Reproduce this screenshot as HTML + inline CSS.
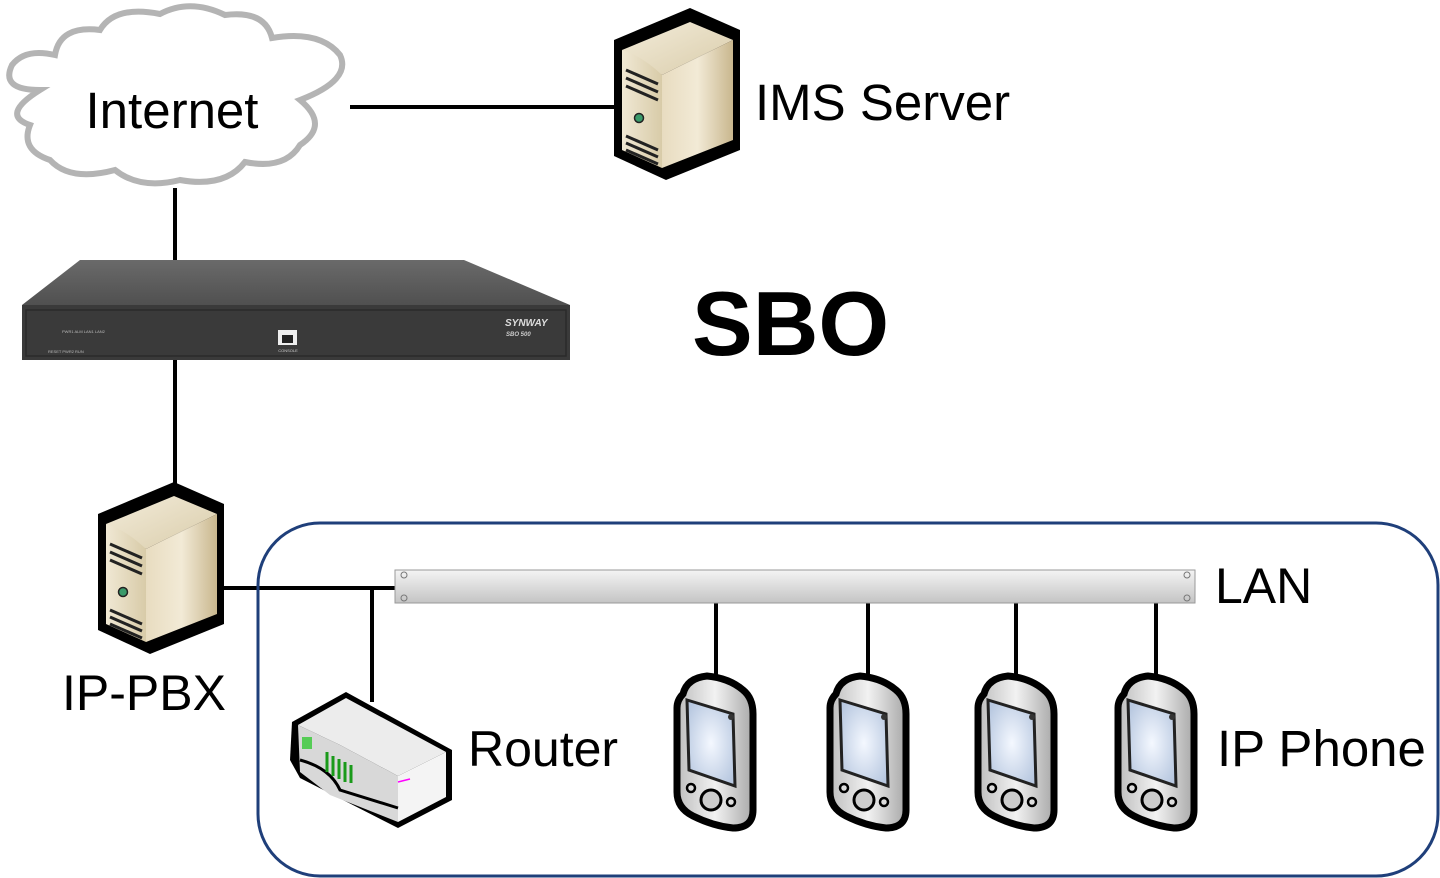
<!DOCTYPE html>
<html><head><meta charset="utf-8"><style>
html,body{margin:0;padding:0;background:#fff;}
svg{display:block;}
text{font-family:"Liberation Sans",Arial,sans-serif;}
</style></head><body>
<svg width="1440" height="878" viewBox="0 0 1440 878" xmlns="http://www.w3.org/2000/svg">
<defs>
<linearGradient id="srvTop" x1="0" y1="0" x2="1" y2="1"><stop offset="0" stop-color="#f3ecda"/><stop offset="1" stop-color="#d9ccaa"/></linearGradient>
<linearGradient id="srvFront" x1="0" y1="0" x2="1" y2="0"><stop offset="0" stop-color="#f0e8d4"/><stop offset="1" stop-color="#d8cba8"/></linearGradient>
<linearGradient id="srvSide" x1="0" y1="0" x2="1" y2="0"><stop offset="0" stop-color="#e8dcc0"/><stop offset="0.5" stop-color="#f2ead6"/><stop offset="1" stop-color="#c9b78e"/></linearGradient>
<linearGradient id="sboTop" x1="0" y1="0" x2="0" y2="1"><stop offset="0" stop-color="#6a6a6a"/><stop offset="1" stop-color="#505050"/></linearGradient>
<linearGradient id="lan" x1="0" y1="0" x2="0" y2="1"><stop offset="0" stop-color="#f4f4f4"/><stop offset="0.5" stop-color="#dcdcdc"/><stop offset="1" stop-color="#c4c4c4"/></linearGradient>
<linearGradient id="ph" x1="0" y1="0" x2="1" y2="0"><stop offset="0" stop-color="#bdbdbd"/><stop offset="0.5" stop-color="#f2f2f2"/><stop offset="1" stop-color="#a8a8a8"/></linearGradient>
<radialGradient id="scr" cx="0.5" cy="0.5" r="0.6"><stop offset="0" stop-color="#f4f8ff"/><stop offset="1" stop-color="#b8c8e0"/></radialGradient>
<g id="server">
 <polygon points="0,32 76,0 126,22 126,142 52,172 0,148" fill="#000"/>
 <polygon points="8,42 76,14 119,32 48,67" fill="url(#srvTop)"/>
 <path d="M8,42 Q28,48 48,67 L48,160 L8,142 Z" fill="url(#srvFront)"/>
 <polygon points="48,67 119,32 119,132 48,160" fill="url(#srvSide)"/>
 <path d="M12,62 L44,76 M12,70 L44,84 M12,78 L44,92" stroke="#222" stroke-width="3"/>
 <circle cx="25" cy="110" r="4.5" fill="#3a9a6a" stroke="#222" stroke-width="1.5"/>
 <path d="M12,128 L44,142 M12,135 L44,149 M12,142 L44,156" stroke="#222" stroke-width="3"/>
</g>
<g id="phone">
 <path d="M10,20 Q14,4 34,2 Q56,4 70,16 Q80,24 80,40 L80,136 Q80,154 60,154 Q40,152 20,142 Q4,134 4,118 L4,34 Q4,26 10,20 Z" fill="url(#ph)" stroke="#000" stroke-width="7"/>
 <polygon points="14,26 60,40 62,112 16,96" fill="url(#scr)" stroke="#222" stroke-width="3"/>
 <circle cx="58" cy="43" r="3" fill="#333"/>
 <circle cx="38" cy="126" r="10" fill="#ccc" stroke="#000" stroke-width="3"/>
 <circle cx="18" cy="114" r="4" fill="#ddd" stroke="#000" stroke-width="2.5"/>
 <circle cx="58" cy="128" r="4" fill="#ddd" stroke="#000" stroke-width="2.5"/>
</g>
</defs>

<line x1="350" y1="107" x2="616" y2="107" stroke="#000" stroke-width="4"/>
<line x1="175" y1="188" x2="175" y2="262" stroke="#000" stroke-width="4"/>
<line x1="175" y1="358" x2="175" y2="486" stroke="#000" stroke-width="4"/>
<line x1="220" y1="588" x2="397" y2="588" stroke="#000" stroke-width="4"/>
<line x1="372" y1="588" x2="372" y2="702" stroke="#000" stroke-width="4"/>
<line x1="716" y1="603" x2="716" y2="680" stroke="#000" stroke-width="4"/>
<line x1="868" y1="603" x2="868" y2="680" stroke="#000" stroke-width="4"/>
<line x1="1016" y1="603" x2="1016" y2="680" stroke="#000" stroke-width="4"/>
<line x1="1156" y1="603" x2="1156" y2="680" stroke="#000" stroke-width="4"/>

<path d="M40,90 Q0,90 12,65 Q25,48 55,55 Q60,25 100,30 Q115,5 160,14 Q190,-2 225,15 Q265,10 272,38 Q320,30 340,55 Q352,80 300,100 Q330,125 300,145 Q285,170 245,162 Q225,188 180,180 Q140,190 115,170 Q70,182 50,160 Q20,150 30,125 Q0,115 40,90 Z" fill="#fff" stroke="#b4b4b4" stroke-width="6"/>
<text x="172" y="128" font-size="51" text-anchor="middle" fill="#000">Internet</text>

<use href="#server" x="614" y="8"/>
<text x="755" y="120" font-size="51" fill="#000">IMS Server</text>

<polygon points="80,260 464,260 570,305 22,305" fill="url(#sboTop)"/>
<rect x="22" y="305" width="548" height="55" fill="#3a3a3a"/>
<rect x="26" y="310" width="540" height="46" fill="none" stroke="#2a2a2a" stroke-width="1.5"/>
<rect x="278" y="330" width="19" height="15" fill="#eee"/>
<rect x="282" y="335" width="11" height="8" fill="#222"/>
<text x="288" y="352" font-size="4" fill="#ccc" text-anchor="middle">CONSOLE</text>
<text x="505" y="326" font-size="10" font-weight="bold" font-style="italic" fill="#ddd">SYNWAY</text>
<text x="506" y="336" font-size="6" font-style="italic" font-weight="bold" fill="#ccc">SBO 500</text>
<text x="62" y="333" font-size="4" fill="#bbb">PWR1 ALM   LAN1 LAN2</text>
<text x="48" y="353" font-size="4" fill="#bbb">RESET PWR2 RUN</text>
<text x="692" y="355" font-size="91" font-weight="bold" fill="#000">SBO</text>

<use href="#server" x="98" y="482"/>
<text x="62" y="710" font-size="50" fill="#000">IP-PBX</text>

<rect x="258" y="523" width="1180" height="353" rx="62" fill="none" stroke="#1f3f7a" stroke-width="3"/>
<rect x="395" y="570" width="800" height="33" fill="url(#lan)" stroke="#999" stroke-width="1"/>
<circle cx="404" cy="575" r="3" fill="none" stroke="#777"/><circle cx="404" cy="598" r="3" fill="none" stroke="#777"/>
<circle cx="1187" cy="575" r="3" fill="none" stroke="#777"/><circle cx="1187" cy="598" r="3" fill="none" stroke="#777"/>
<text x="1215" y="603" font-size="50" fill="#000">LAN</text>

<polygon points="292,722 346,692 452,750 452,800 398,828 300,778 290,760" fill="#000"/>
<polygon points="298,725 346,698 446,752 398,776 340,745" fill="#ececec"/>
<polygon points="298,725 340,745 398,776 398,822 330,795 300,772" fill="#d8d8d8"/>
<polygon points="398,776 446,752 446,797 398,822" fill="#f4f4f4"/>
<path d="M300,760 Q330,768 340,790 L398,808" stroke="#000" stroke-width="3" fill="none"/>
<rect x="302" y="737" width="10" height="12" fill="#5c5"/>
<path d="M327,752 v20 M333,756 v20 M339,759 v20 M345,762 v20 M351,765 v18" stroke="#1a9a1a" stroke-width="3"/>
<line x1="398" y1="782" x2="410" y2="779" stroke="#f0f" stroke-width="1.5"/>
<text x="468" y="766" font-size="50" fill="#000">Router</text>

<use href="#phone" x="673" y="674"/>
<use href="#phone" x="826" y="674"/>
<use href="#phone" x="974" y="674"/>
<use href="#phone" x="1114" y="674"/>
<text x="1217" y="766" font-size="51" fill="#000">IP Phone</text>
</svg>
</body></html>
